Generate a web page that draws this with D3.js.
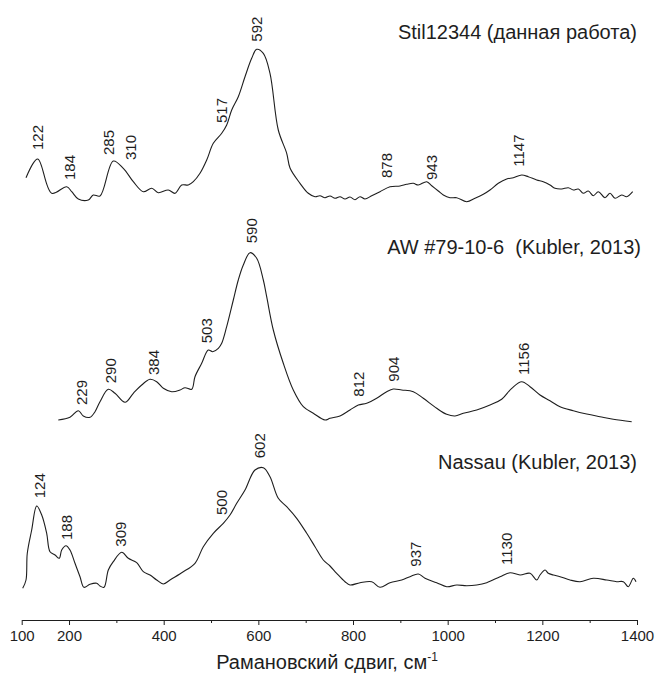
<!DOCTYPE html>
<html>
<head>
<meta charset="utf-8">
<script src="https://cdn.jsdelivr.net/npm/d3@7"></script>
<style>
  body { margin: 0; background: #fff; }
  svg { display: block; font-family: "Liberation Sans", Arial, sans-serif; }
</style>
</head>
<body>
<svg id="chart" width="657" height="675"></svg>
<script>
// Raman spectra: [wavenumber cm-1, intensity a.u. above own baseline]
const stilSpectrum = [
  [109.1, 22.3], [133.8, 41], [163.4, 6.7], [195.1, 13.3], [205.7, 8.3], [219.6, 1],
  [240.7, 0], [251.3, 5], [265.4, 4], [293.5, 39], [314.7, 31.7], [335.8, 18.3],
  [356.9, 8.3], [374.7, 11.7], [388.6, 7.3], [409.7, 10], [423.9, 6.7], [438.0, 15],
  [452.0, 15], [462.6, 18.3], [476.7, 26.7], [490.9, 40], [504.8, 56.7], [522.6, 66.7],
  [533.1, 75], [543.7, 90], [557.6, 103.3], [571.8, 123.3], [585.9, 141.7], [596.5, 150.7],
  [610.5, 146.7], [624.6, 126.7], [642.1, 70], [659.9, 46.7], [666.9, 32], [688.0, 16.7],
  [705.5, 6.7], [719.7, 3.3], [730.2, 4.3], [740.8, 2.3], [751.4, 4], [762.0, 1.7],
  [772.5, 3.3], [783.1, 1], [793.6, 3], [804.2, 0.3], [814.8, 3.3], [825.3, 1],
  [839.5, 4.3], [857.0, 8.3], [878.1, 13.3], [899.3, 14], [913.4, 15.7], [927.4, 16.7],
  [937.9, 15], [955.7, 18.3], [966.3, 14.3], [980.2, 9], [990.8, 5], [1004.9, 2.3],
  [1019.0, 2.3], [1040.2, -1.7], [1057.7, 1.7], [1075.3, 5.7], [1089.4, 10], [1107.0, 16.7],
  [1124.7, 21], [1138.7, 22.3], [1156.4, 25], [1170.3, 23.3], [1188.1, 20], [1202.0, 18.3],
  [1216.2, 15], [1226.8, 11.7], [1240.9, 11], [1254.9, 12.3], [1265.4, 10], [1276.0, 11],
  [1286.6, 6.7], [1297.1, 9], [1307.7, 4.3], [1318.3, 8.3], [1332.4, 2.3], [1343.0, 6.7],
  [1353.6, 1.7], [1367.7, 5], [1378.2, 3.3], [1390.9, 8.3]
];

const awSpectrum = [
  [177.3, 2], [202.0, 4.7], [219.6, 11.3], [230.1, 6], [244.3, 4.7], [254.9, 10.3],
  [265.4, 20.3], [283.0, 32.7], [297.1, 28.7], [318.3, 19.7], [335.8, 28.7], [353.5, 37],
  [371.1, 42.7], [385.2, 40.3], [399.2, 33.7], [416.9, 30.3], [434.5, 32], [445.0, 34.3],
  [459.2, 32.7], [466.1, 45.3], [480.3, 58.7], [494.2, 72], [503.5, 70.3], [515.4, 73.7],
  [522.6, 78.7], [533.1, 95.3], [547.1, 122], [557.6, 142], [568.2, 157], [582.4, 169.3],
  [596.5, 163.7], [610.5, 142], [617.6, 125.3], [631.6, 92], [652.7, 58.7], [673.8, 32],
  [695.0, 15.3], [716.1, 8.7], [740.8, 2], [751.4, 3.7], [772.5, 6], [793.6, 12],
  [811.2, 17], [828.9, 18.7], [850.0, 23.7], [871.2, 30.3], [885.1, 33], [902.9, 32],
  [927.4, 30.3], [948.5, 23.7], [976.8, 13.7], [997.9, 7.7], [1015.5, 6], [1033.0, 8.7],
  [1061.3, 12], [1089.4, 17], [1114.1, 22.7], [1135.3, 33.7], [1156.4, 40.3], [1174.0, 35.3],
  [1195.1, 27], [1216.2, 21.3], [1237.4, 15.3], [1265.4, 11.3], [1293.7, 8], [1321.8, 5.3],
  [1349.9, 2.7], [1388.8, 0.3]
];

const nassauSpectrum = [
  [102.1, 1.7], [109.1, 10], [111.8, 36.7], [121.1, 60], [131.7, 84], [142.3, 75],
  [152.8, 56.7], [159.8, 38.3], [170.4, 35], [179.4, 31.7], [184.5, 40], [193.6, 44.3],
  [202.0, 40], [212.6, 26.7], [223.2, 13.3], [231.6, 2.7], [244.3, 5.7], [258.5, 6.7],
  [265.4, 4], [273.9, 2.7], [283.0, 20], [293.5, 28.3], [311.3, 37.7], [325.2, 31.7],
  [343.0, 27.3], [356.9, 18.3], [371.1, 15], [385.2, 10], [399.2, 6], [413.3, 10],
  [438.0, 17.3], [466.1, 26.7], [483.7, 43.3], [504.8, 56.7], [525.9, 66.7], [540.1, 75],
  [554.3, 86.7], [571.8, 100], [592.9, 120], [610.5, 122.3], [624.6, 113.3], [642.1, 91.7],
  [659.9, 83.3], [681.0, 71.7], [702.2, 56.7], [719.7, 43.3], [737.2, 30], [751.4, 24],
  [765.5, 16.7], [783.1, 8.3], [793.6, 5], [814.8, 7.3], [839.5, 8.3], [857.0, 2.7],
  [878.1, 7.3], [902.9, 10], [920.4, 13.3], [938.0, 16], [952.1, 11.7], [976.8, 7.3],
  [997.9, 3.3], [1019.0, 5], [1040.2, 4.3], [1061.3, 5], [1082.5, 7.3], [1110.6, 13.3],
  [1131.7, 17.3], [1152.9, 15], [1174.0, 16.7], [1188.1, 10], [1195.1, 15], [1205.7, 20],
  [1212.6, 16.7], [1223.2, 15], [1237.4, 13.3], [1258.5, 10], [1279.6, 8.3], [1307.7, 11.7],
  [1336.0, 10], [1357.1, 8.3], [1371.1, 8.3], [1381.6, 3.3], [1392.2, 11.7], [1397.9, 8.3]
];

// peak labels: [text, wavenumber where placed, intensity at label foot]
const stilPeaks = [
  ["122", 133.8, 50], ["184", 202, 20], ["285", 283, 45], ["310", 329, 40],
  ["517", 522.6, 77], ["592", 596.5, 158.3], ["878", 871, 22], ["943", 966, 20],
  ["1147", 1149, 33.3]
];
const awPeaks = [
  ["229", 226.8, 17], ["290", 286.6, 38.7], ["384", 378, 47], ["503", 491, 78.7],
  ["590", 586, 178.7], ["812", 811, 25.3], ["904", 885, 40.3], ["1156", 1160, 47]
];
const nassauPeaks = [
  ["124", 137, 91.7], ["188", 195, 50], ["309", 307.7, 43.3], ["500", 522.6, 75],
  ["602", 602, 131.7], ["937", 933, 23.3], ["1130", 1124.7, 25]
];

const sampleNames = ["Stil12344 (данная работа)", "AW #79-10-6  (Kubler, 2013)", "Nassau (Kubler, 2013)"];
const majorTicks = [100, 200, 400, 600, 800, 1000, 1200, 1400];
const minorTicks = [300, 500, 700, 900, 1100, 1300];

const svg = d3.select("#chart");
const ink = "#1e1e1e";

const x = d3.scaleLinear().domain([100, 1400]).range([21.7, 637]);
const y = d3.scaleLinear().domain([0, 590]).range([590, 0]);

const series = [
  { data: stilSpectrum, peaks: stilPeaks, offset: 390, name: sampleNames[0], titleX: 637, titleY: 38.5 },
  { data: awSpectrum, peaks: awPeaks, offset: 168, name: sampleNames[1], titleX: 641, titleY: 253.5 },
  { data: nassauSpectrum, peaks: nassauPeaks, offset: 0, name: sampleNames[2], titleX: 637, titleY: 468.5 }
];

series.forEach(s => {
  const line = d3.line()
    .curve(d3.curveCatmullRom.alpha(0.5))
    .x(d => x(d[0]))
    .y(d => y(d[1] + s.offset));

  svg.append("path")
    .datum(s.data)
    .attr("fill", "none")
    .attr("stroke", ink)
    .attr("stroke-width", 1.1)
    .attr("stroke-linejoin", "round")
    .attr("d", line);

  svg.append("g")
    .selectAll("text")
    .data(s.peaks)
    .join("text")
    .attr("transform", d => `translate(${x(d[1])},${y(d[2] + s.offset)}) rotate(-90)`)
    .attr("dominant-baseline", "central")
    .attr("text-anchor", "start")
    .style("font-size", "15px")
    .attr("fill", ink)
    .text(d => d[0]);

  svg.append("text")
    .attr("x", s.titleX)
    .attr("y", s.titleY)
    .attr("text-anchor", "end")
    .attr("xml:space", "preserve")
    .style("white-space", "pre")
    .style("font-size", "20px")
    .attr("fill", ink)
    .text(s.name);
});

const axisY = 620;

svg.append("g")
  .attr("transform", `translate(0,${axisY})`)
  .call(d3.axisBottom(x).tickValues(minorTicks).tickSize(3).tickFormat(""))
  .call(g => g.select(".domain").remove())
  .call(g => g.selectAll("line").attr("stroke", ink));

svg.append("g")
  .attr("transform", `translate(0,${axisY})`)
  .call(d3.axisBottom(x).tickValues(majorTicks).tickSize(5).tickSizeOuter(0).tickPadding(5).tickFormat(d3.format("d")))
  .call(g => g.select(".domain").attr("stroke", ink))
  .call(g => g.selectAll("line").attr("stroke", ink))
  .call(g => g.selectAll("text")
    .attr("fill", ink)
    .style("font-size", "15px")
    .style("font-family", "'Liberation Sans', Arial, sans-serif"));

const title = svg.append("text")
  .attr("x", 327)
  .attr("y", 669)
  .attr("text-anchor", "middle")
  .style("font-size", "20px")
  .attr("fill", ink)
  .text("Рамановский сдвиг, см");
title.append("tspan")
  .attr("dy", -8)
  .style("font-size", "12px")
  .text("-1");
</script>
</body>
</html>
